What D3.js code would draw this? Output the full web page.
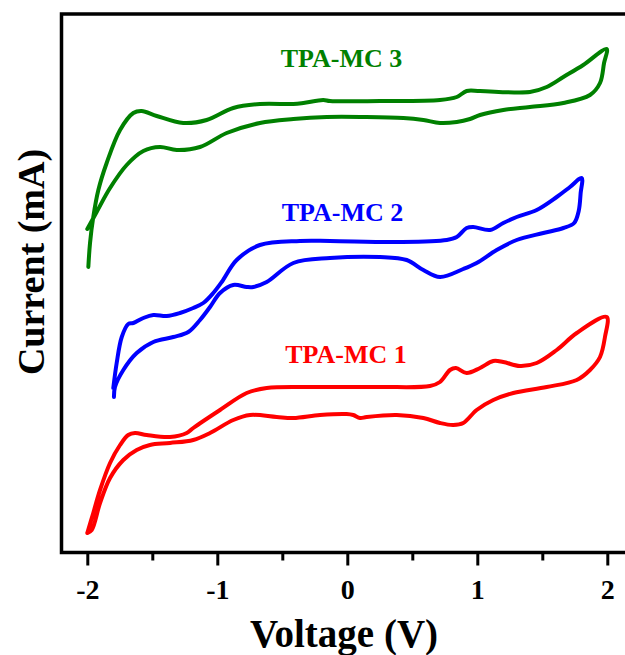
<!DOCTYPE html>
<html>
<head>
<meta charset="utf-8">
<script src="https://cdn.jsdelivr.net/npm/d3@7"></script>
<style>
  html, body { margin: 0; padding: 0; background: #fff; }
  svg { display: block; }
  text { font-family: "Liberation Serif", "Times New Roman", serif; font-weight: bold; }
</style>
</head>
<body>
<svg id="chart" width="625" height="655"></svg>
<script>
// ---- Data (Voltage in V, Current in arbitrary mA units) ----
const xTicks = [-2, -1, 0, 1, 2];
const xMinorTicks = [-1.5, -0.5, 0.5, 1.5];

const seriesNames = ["TPA-MC 1", "TPA-MC 2", "TPA-MC 3"];
const seriesColors = ["#ff0000", "#0000ff", "#008000"];

const mc3Voltage = [-2.000,-1.928,-1.825,-1.697,-1.569,-1.441,-1.312,-1.133,-0.928,-0.672,-0.415,-0.158,0.123,0.431,0.585,0.713,0.842,0.944,1.021,1.200,1.405,1.662,1.867,1.944,1.975,1.995,1.815,1.662,1.534,1.405,1.021,0.918,0.842,0.713,0.252,-0.133,-0.185,-0.338,-0.415,-0.672,-0.877,-1.082,-1.262,-1.466,-1.582,-1.646,-1.748,-1.851,-1.915,-1.954,-1.979,-1.992];
const mc3Current = [3.24,3.41,3.65,3.88,4.02,4.06,4.03,4.06,4.20,4.30,4.34,4.36,4.36,4.35,4.33,4.30,4.31,4.34,4.38,4.43,4.46,4.50,4.58,4.70,4.90,5.04,4.88,4.76,4.66,4.61,4.62,4.62,4.56,4.53,4.52,4.52,4.53,4.50,4.49,4.49,4.45,4.33,4.30,4.37,4.42,4.40,4.23,3.90,3.63,3.36,3.10,2.86];

const mc2Voltage = [-1.800,-1.774,-1.735,-1.685,-1.646,-1.569,-1.492,-1.389,-1.287,-1.185,-1.108,-1.031,-0.966,-0.851,-0.672,-0.364,-0.133,0.380,0.765,0.842,0.918,0.969,1.098,1.200,1.303,1.457,1.611,1.713,1.803,1.795,1.780,1.745,1.662,1.508,1.303,1.149,0.995,0.892,0.713,0.585,0.457,0.252,-0.133,-0.415,-0.620,-0.723,-0.774,-0.877,-0.979,-1.056,-1.133,-1.223,-1.338,-1.492,-1.620,-1.723,-1.787,-1.795];
const mc2Current = [1.65,1.90,2.16,2.29,2.30,2.35,2.38,2.37,2.40,2.45,2.50,2.60,2.71,2.93,3.08,3.12,3.12,3.11,3.13,3.16,3.25,3.26,3.23,3.30,3.36,3.43,3.56,3.66,3.75,3.60,3.42,3.30,3.25,3.20,3.13,3.03,2.90,2.84,2.76,2.83,2.93,2.96,2.95,2.90,2.71,2.66,2.66,2.68,2.60,2.46,2.33,2.21,2.16,2.11,2.00,1.83,1.66,1.56];

const mc1Voltage = [-2.000,-1.954,-1.902,-1.825,-1.748,-1.685,-1.633,-1.543,-1.364,-1.235,-1.185,-0.979,-0.774,-0.620,-0.287,0.252,0.636,0.713,0.790,0.836,0.918,1.021,1.123,1.200,1.328,1.457,1.611,1.765,1.995,1.982,1.944,1.867,1.765,1.534,1.277,1.123,0.995,0.892,0.815,0.713,0.585,0.380,0.149,0.098,0.046,-0.005,-0.210,-0.415,-0.543,-0.748,-0.877,-1.056,-1.185,-1.364,-1.518,-1.620,-1.723,-1.825,-1.902,-1.966,-2.000];
const mc1Current = [0.20,0.40,0.63,0.90,1.08,1.18,1.20,1.18,1.16,1.20,1.25,1.43,1.60,1.65,1.66,1.66,1.67,1.71,1.83,1.85,1.80,1.85,1.92,1.91,1.87,1.90,2.03,2.20,2.36,2.16,1.96,1.83,1.73,1.66,1.60,1.53,1.43,1.30,1.28,1.30,1.35,1.38,1.36,1.35,1.38,1.39,1.38,1.35,1.36,1.38,1.33,1.20,1.13,1.10,1.08,1.03,0.93,0.75,0.50,0.23,0.20];

const labelV = [-0.010, -0.037, -0.045];  // label centres (V)
const labelI = [1.90, 3.32, 4.86];        // label baselines (current units)

// ---- Layout ----
const svg = d3.select("#chart");
const frame = { left: 61.5, top: 14, bottom: 552.5 };
const x = d3.scaleLinear().domain([-2, 2]).range([87.3, 607.3]);
const y = d3.scaleLinear().domain([0, 5.39]).range([553, 14]);

// frame (right side runs off the page like the original)
svg.append("path")
  .attr("d", `M640,${frame.top} H${frame.left} V${frame.bottom} H640`)
  .attr("fill", "none").attr("stroke", "#000").attr("stroke-width", 3.5);

// x axis
const gx = svg.append("g").attr("transform", `translate(0,${frame.bottom})`)
  .call(d3.axisBottom(x).tickValues(xTicks).tickSize(13).tickPadding(0).tickFormat(d3.format("d")));
gx.select(".domain").remove();
gx.selectAll(".tick line").attr("stroke", "#000").attr("stroke-width", 3);
gx.selectAll(".tick text").attr("fill", "#000")
  .attr("y", 46).attr("dy", 0)
  .style("font-size", "28px")
  .style("font-family", '"Liberation Serif", serif').style("font-weight", "bold")
  .text(d => d < 0 ? "-" + Math.abs(d) : d);
const gxm = svg.append("g").attr("transform", `translate(0,${frame.bottom})`)
  .call(d3.axisBottom(x).tickValues(xMinorTicks).tickSize(8).tickFormat(""));
gxm.select(".domain").remove();
gxm.selectAll(".tick line").attr("stroke", "#000").attr("stroke-width", 3);

// axis titles
svg.append("text").attr("x", 344).attr("y", 647).attr("text-anchor", "middle")
  .style("font-size", "39px").attr("fill", "#000").text("Voltage (V)");
svg.append("text").attr("transform", "translate(44,262) rotate(-90)").attr("text-anchor", "middle")
  .style("font-size", "38px").attr("fill", "#000").text("Current (mA)");

// curves
const line = d3.line().x(d => x(d[0])).y(d => y(d[1])).curve(d3.curveCatmullRom.alpha(0.5));
const allV = [mc1Voltage, mc2Voltage, mc3Voltage];
const allI = [mc1Current, mc2Current, mc3Current];
allV.forEach((vs, k) => {
  const pts = vs.map((v, i) => [v, allI[k][i]]);
  svg.append("path").datum(pts).attr("d", line)
    .attr("fill", "none").attr("stroke", seriesColors[k])
    .attr("stroke-width", 4).attr("stroke-linejoin", "round").attr("stroke-linecap", "round");
});

// series labels
seriesNames.forEach((name, k) => {
  svg.append("text").attr("x", x(labelV[k])).attr("y", y(labelI[k]))
    .attr("text-anchor", "middle").style("font-size", "26px")
    .attr("fill", seriesColors[k]).text(name);
});
</script>
</body>
</html>
